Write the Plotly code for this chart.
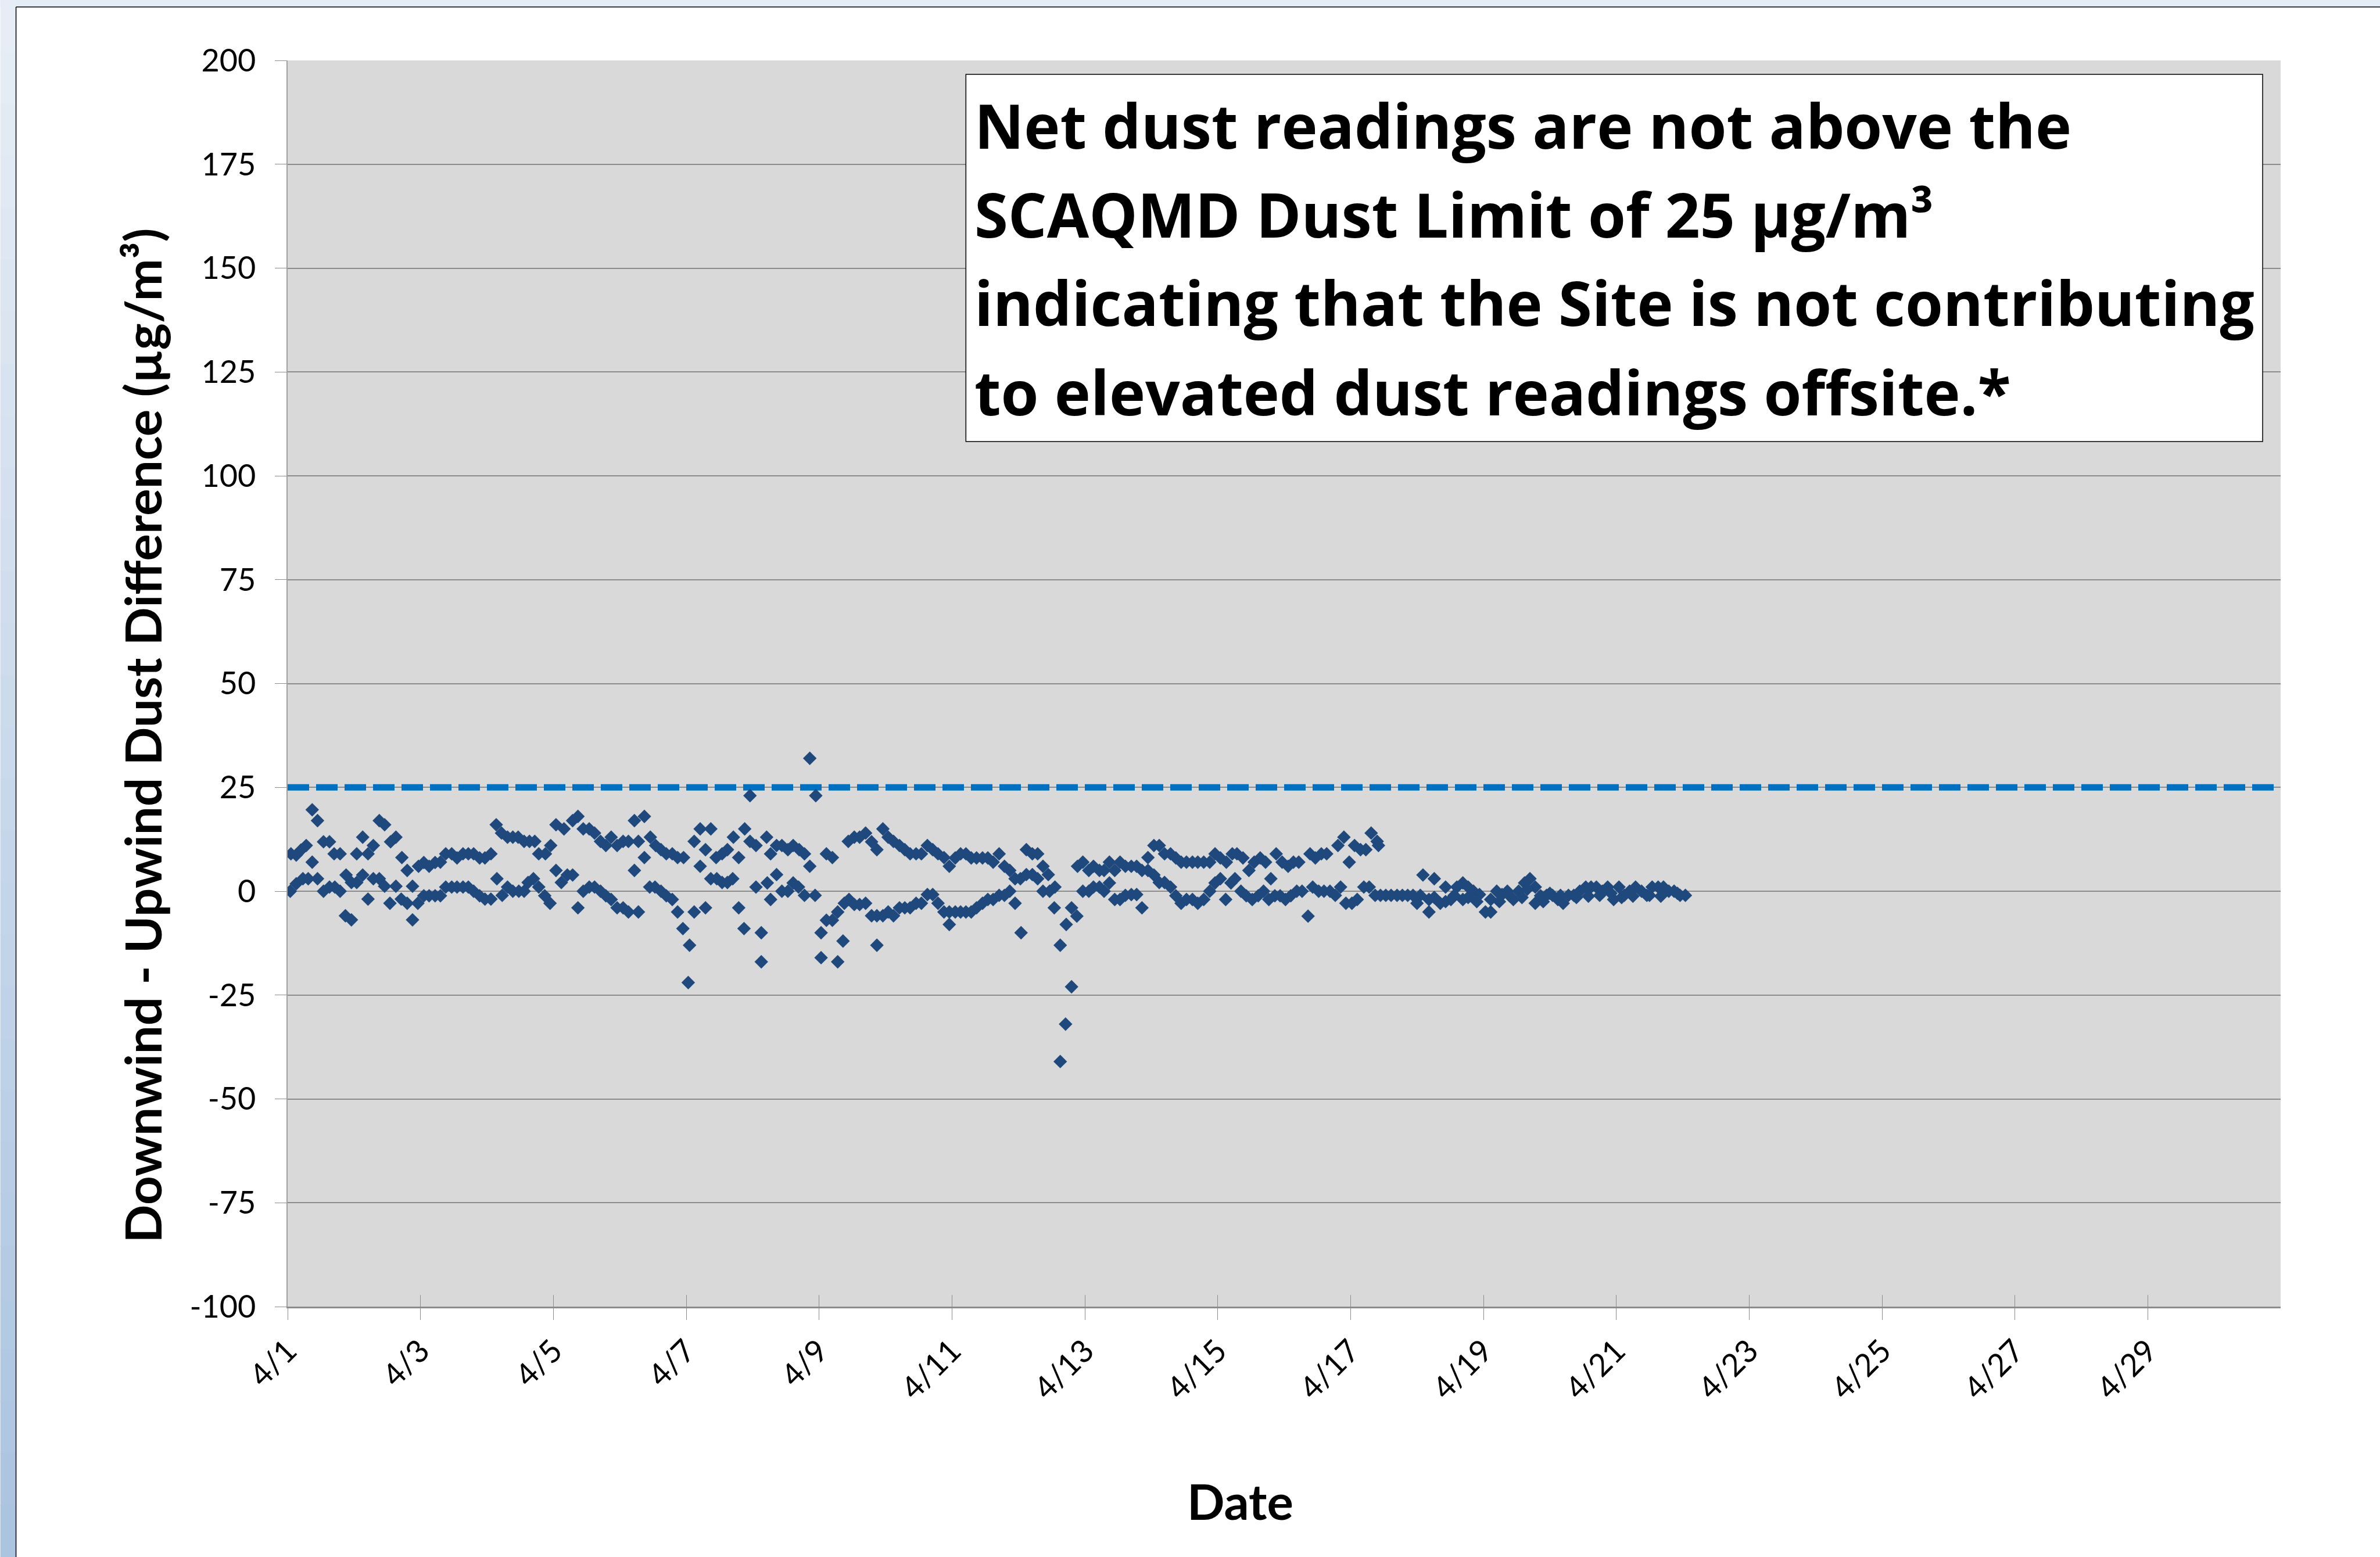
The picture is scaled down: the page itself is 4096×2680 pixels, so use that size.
import pandas as pd
import plotly.graph_objects as go

# ---------------- data (days after 4/1 00:00, net dust µg/m³) ----------------
BASE_DATE = "2014-04-01"   # only month/day are shown on the chart

apr01_04 = [
    (0.05, 9.0), (0.13, 8.7), (0.20, 9.9), (0.28, 11.0), (0.37, 19.6), (0.45, 17.0), (0.37, 7.0),
    (0.54, 11.9), (0.63, 11.9), (0.70, 9.0), (0.79, 9.0), (1.04, 9.0), (1.13, 13.0), (1.21, 9.0),
    (1.29, 11.0), (1.38, 17.0), (1.46, 16.0), (1.55, 11.9), (1.63, 13.0), (1.72, 8.1), (1.80, 5.0),
    (1.97, 6.0), (2.05, 6.9), (2.13, 6.0), (2.22, 6.9), (2.30, 7.0), (2.38, 9.0), (2.47, 9.0),
    (2.55, 8.0), (2.64, 9.0), (2.72, 9.0), (2.80, 9.0), (2.89, 8.0), (2.97, 8.0), (3.06, 9.0),
    (3.14, 16.0), (3.22, 14.0), (3.31, 13.0), (3.39, 13.0), (3.47, 13.0), (3.56, 12.0), (3.64, 12.0),
    (3.72, 12.0), (3.78, 9.0), (3.88, 9.0), (3.96, 11.0), (4.04, 16.0), (4.16, 15.0),
    (0.04, 0.0), (0.13, 1.8), (0.23, 3.0), (0.31, 3.0), (0.45, 3.0), (0.54, 0.0), (0.63, 1.0),
    (0.71, 1.0), (0.79, 0.0), (0.87, -5.9), (0.88, 3.9), (0.96, 2.1), (0.96, -6.9), (1.04, 2.1),
    (1.13, 3.9), (1.21, -1.9), (1.29, 3.0), (1.38, 3.0), (1.46, 1.2), (1.54, -2.9), (1.63, 1.2),
    (1.71, -1.9), (1.80, -2.9), (1.88, 1.2), (1.88, -6.9), (1.96, -2.9), (2.05, -1.1), (2.13, -1.1),
    (2.22, -1.1), (2.30, -1.1), (2.38, 1.0), (2.47, 1.0), (2.55, 1.0), (2.64, 1.0), (2.72, 1.0),
    (2.80, 0.0), (2.89, -1.1), (2.97, -1.9), (3.06, -1.9), (3.15, 3.0), (3.23, -1.0), (3.31, 1.0),
    (3.39, 0.0), (3.48, 0.0), (3.56, 0.0), (3.62, 2.1), (3.70, 3.0), (3.78, 1.0), (3.87, -1.1),
    (3.95, -2.9), (4.04, 5.0), (4.12, 2.1),
]

apr05_08 = [
    (4.29, 17.0), (4.37, 18.0), (4.45, 15.0), (4.54, 15.0), (4.62, 14.0), (4.71, 12.0), (4.79, 11.0),
    (4.87, 13.0), (4.96, 11.0), (5.05, 12.0), (5.13, 12.0), (5.28, 12.0), (5.22, 17.0), (5.37, 18.0),
    (5.37, 8.1), (5.22, 5.0), (5.46, 13.0), (5.54, 11.0), (5.62, 10.0), (5.70, 9.0), (5.79, 9.0),
    (5.87, 8.1), (5.96, 8.1),
    (4.21, 3.9), (4.29, 3.9), (4.37, -4.0), (4.45, 0.0), (4.54, 1.0), (4.62, 1.0), (4.71, 0.0),
    (4.79, -1.1), (4.87, -2.0), (4.96, -4.0), (5.05, -4.0), (5.13, -5.0), (5.28, -5.0), (5.45, 1.0),
    (5.53, 1.0), (5.62, 0.0), (5.70, -1.1), (5.79, -2.0), (5.87, -5.0), (5.95, -9.0), (6.05, -13.0),
    (6.03, -22.0), (6.12, -5.0), (6.29, -4.0),
    (6.12, 12.0), (6.21, 15.0), (6.37, 15.0), (6.29, 10.0), (6.21, 6.0), (6.37, 3.0), (6.46, 3.0),
    (6.54, 2.1), (6.62, 2.1), (6.70, 3.0), (6.45, 8.1), (6.54, 9.0), (6.62, 10.0), (6.71, 13.0),
    (6.79, 8.1), (6.79, -4.0), (6.87, -9.0), (6.88, 15.0), (6.96, 12.0), (7.05, 11.0), (6.96, 23.0),
    (7.05, 1.0), (7.13, -10.0), (7.13, -17.0),
    (7.21, 13.0), (7.27, 9.0), (7.36, 11.0), (7.44, 11.0), (7.53, 10.0), (7.61, 11.0), (7.70, 10.0),
    (7.78, 9.0), (7.86, 6.0),
    (7.22, 2.0), (7.27, -2.0), (7.36, 4.0), (7.44, 0.0), (7.53, 0.0), (7.61, 2.0), (7.69, 1.0),
    (7.78, -1.0), (7.94, -1.0),
    (7.86, 32.0), (7.95, 23.0), (8.11, 9.0), (8.20, 8.1), (8.03, -10.0), (8.03, -16.0), (8.11, -7.0),
    (8.20, -7.0), (8.28, -5.0), (8.28, -17.0), (8.36, -12.0), (8.38, -2.9), (8.44, 12.0),
]

apr09_12 = [
    (8.53, 13.0), (8.61, 13.0), (8.70, 14.0), (8.79, 11.9), (8.87, 10.0), (8.96, 15.0), (9.04, 13.0),
    (9.12, 12.0), (9.21, 11.0), (9.29, 10.0), (9.37, 9.0), (9.46, 9.0), (9.54, 9.0), (9.63, 11.0),
    (9.71, 10.0), (9.79, 9.0), (9.88, 8.1), (9.96, 6.0), (10.05, 8.0), (10.13, 9.0), (10.21, 9.0),
    (10.29, 8.0), (10.37, 8.0), (10.46, 8.0), (10.54, 8.0), (10.62, 7.0), (10.71, 9.0), (10.79, 6.0),
    (10.87, 5.0), (10.95, 3.0), (11.03, 3.0), (11.12, 4.0), (11.21, 4.0), (11.29, 3.0), (11.12, 10.0),
    (11.21, 9.0), (11.29, 9.0), (11.37, 6.0), (11.45, 4.0),
    (8.45, -2.0), (8.53, -3.2), (8.61, -3.2), (8.70, -2.9), (8.79, -5.9), (8.87, -5.9), (8.96, -5.9),
    (9.04, -5.0), (9.12, -5.9), (9.21, -4.0), (9.29, -4.0), (9.37, -4.0), (9.46, -2.9), (9.54, -2.9),
    (9.63, -0.8), (9.71, -0.8), (9.79, -2.9), (9.88, -5.0), (9.96, -5.0), (10.05, -5.0), (10.13, -5.0),
    (10.21, -5.0), (10.29, -5.0), (10.37, -4.0), (10.46, -2.9), (10.54, -2.0), (10.62, -2.0),
    (10.71, -1.0), (10.79, -1.0), (10.87, 0.0),
    (8.87, -13.0), (9.96, -8.0), (10.95, -2.9), (11.04, -10.0),
    (11.37, 0.0), (11.47, 0.0), (11.55, 1.0), (11.54, -4.0), (11.63, -13.0), (11.72, -8.0),
    (11.80, -4.0), (11.88, -6.0), (11.80, -23.0), (11.71, -32.0), (11.63, -41.0),
    (11.89, 6.0), (11.97, 7.0), (12.06, 5.0), (12.13, 6.0), (12.22, 5.0), (12.29, 5.0), (12.37, 7.0),
    (12.45, 5.0), (12.53, 7.0), (12.61, 6.0),
    (11.97, 0.0), (12.06, 0.0), (12.13, 1.0), (12.22, 1.0), (12.29, 0.0), (12.37, 2.0), (12.45, -2.0),
    (12.53, -2.0), (12.61, -1.0),
]

apr13_16 = [
    (12.70, 6.0), (12.78, 6.0), (12.86, 5.0), (12.95, 5.0), (12.95, 8.1), (13.04, 11.0), (13.12, 11.0),
    (13.20, 9.0), (13.29, 9.0), (13.37, 8.0), (13.45, 7.0), (13.53, 7.0), (13.62, 7.0), (13.70, 7.0),
    (13.79, 7.0), (13.88, 7.0), (13.96, 9.0), (14.04, 8.0), (14.13, 7.0), (14.22, 9.0), (14.29, 9.0),
    (14.38, 8.0), (14.47, 5.0), (14.55, 7.0), (14.64, 8.0), (14.72, 7.0), (14.88, 9.0), (14.97, 7.0),
    (15.06, 6.0), (15.14, 7.0), (15.22, 7.0), (15.39, 9.0), (15.47, 8.0), (15.56, 9.0), (15.64, 9.0),
    (15.81, 11.0), (15.90, 13.0), (15.98, 7.0), (16.06, 11.0), (16.15, 10.0), (16.23, 10.0),
    (16.31, 14.0), (16.40, 12.0), (16.42, 11.0),
    (12.70, -0.8), (12.78, -0.8), (12.86, -4.0), (13.04, 3.9), (13.12, 2.1), (13.20, 2.1), (13.29, 1.0),
    (13.37, -1.1), (13.45, -2.9), (13.53, -2.0), (13.62, -2.0), (13.70, -2.9), (13.79, -2.0),
    (13.88, 0.0), (13.96, 2.0), (14.04, 3.0), (14.12, -2.0), (14.20, 2.0), (14.26, 3.0), (14.35, 0.0),
    (14.43, -1.1), (14.52, -2.0), (14.61, -1.1), (14.69, 0.0), (14.77, -2.0), (14.86, -1.1),
    (14.94, -1.1), (15.02, -2.0), (15.10, -1.1), (15.19, 0.0), (15.27, 0.0), (14.80, 3.0),
    (15.36, -6.0), (15.43, 1.0), (15.52, 0.0), (15.60, 0.0), (15.69, 0.0), (15.77, -1.0), (15.85, 1.0),
    (15.93, -2.9), (16.02, -2.9), (16.10, -2.0), (16.20, 1.0), (16.28, 1.0), (16.37, -1.0),
    (16.45, -1.0), (16.53, -1.0), (16.61, -1.0), (16.70, -1.0), (16.78, -1.0), (16.86, -1.0),
]

apr17_22 = [
    (16.94, -1.0), (17.00, -2.9), (17.09, 3.9), (17.18, -2.0), (17.18, -5.0), (17.26, 3.0),
    (17.35, -2.9), (17.43, 1.0), (17.51, -2.0), (17.60, 1.0), (17.69, 2.0), (17.77, 1.0),
    (17.69, -2.0), (17.85, 0.0), (17.94, -0.8), (18.03, -5.0), (18.11, -5.0), (18.11, -2.0),
    (18.20, 0.0), (18.28, -0.8), (18.36, 0.0), (18.45, -2.0), (18.53, 0.0), (18.62, 2.0),
    (18.70, 3.0), (18.78, 1.0), (18.78, -2.9), (18.86, -1.1), (18.95, -1.0), (19.04, -1.0),
    (19.12, -2.0), (19.20, -2.9), (19.28, -1.0), (19.36, -1.0), (19.45, 0.0), (19.54, 1.0),
    (19.62, 1.0), (19.70, 1.0), (19.79, 0.0), (19.87, 1.0), (19.96, -2.0), (20.04, 1.0),
    (20.12, -1.0), (20.20, 0.0), (20.29, 1.0), (20.38, 0.0), (20.46, -1.0), (20.54, 1.0),
    (20.63, 1.0), (20.71, 1.0), (20.79, 0.0), (20.87, 0.0), (20.96, -1.0), (21.04, -1.0),
    (17.05, -1.0), (17.26, -1.5), (17.43, -2.5), (17.56, -1.0), (17.77, -1.5), (17.90, -2.5),
    (18.24, -2.5), (18.40, -1.2), (18.58, -1.5), (18.66, 0.5), (18.90, -2.5), (19.00, -0.5),
    (19.16, -1.0), (19.40, -1.5), (19.58, -1.2), (19.75, -1.0), (19.92, -0.5), (20.08, -1.5),
    (20.25, -1.2), (20.50, -1.0), (20.67, -1.2), (20.92, -0.5),
]

DUST_LIMIT = 25                      # SCAQMD limit, µg/m³
AXIS_SPAN_DAYS = 30                  # 4/1 .. 5/1
X_TICK_DAYS = list(range(0, 29, 2))  # 4/1, 4/3, ... 4/29
Y_TICK_VALS = list(range(-100, 201, 25))
Y_TICK_TEXT = [str(v) for v in Y_TICK_VALS]

BOX_LINES = [
    "Net dust readings are not above the",
    "SCAQMD Dust Limit of 25 µg/m³",
    "indicating that the Site is not contributing",
    "to elevated dust readings offsite.*",
]
Y_TITLE = "Downwind - Upwind Dust Difference (µg/m³)"
X_TITLE = "Date"

# ---------------- build ----------------
base = pd.Timestamp(BASE_DATE)
points = apr01_04 + apr05_08 + apr09_12 + apr13_16 + apr17_22
xs = [base + pd.to_timedelta(d, unit="D") for d, _ in points]
ys = [v for _, v in points]
x_end = base + pd.Timedelta(days=AXIS_SPAN_DAYS)
x_ticks = [base + pd.Timedelta(days=d) for d in X_TICK_DAYS]

W, H = 4096, 2680
L, R, T, B = 494.5, 3925.0, 104.0, 2249.0


def px_x(px):
    return (px - L) / (R - L)


def px_y(py):
    return (B - py) / (B - T)


FONT = "Lato"
BOX_FONT = "Open Sans"
GRID = "#8c8c8c"

fig = go.Figure()
fig.add_trace(go.Scatter(
    x=[base, x_end], y=[DUST_LIMIT, DUST_LIMIT], mode="lines",
    line=dict(color="#0070c0", width=11, dash="37px,12px"),
    hoverinfo="skip", showlegend=False))
fig.add_trace(go.Scatter(
    x=xs, y=ys, mode="markers",
    marker=dict(symbol="diamond", size=18, color="#1f497d", line=dict(width=0)),
    showlegend=False))
fig.add_trace(go.Scatter(x=[], y=[], xaxis="x2", showlegend=False))

shapes = []
# window background: top strip + left gradient strip
shapes.append(dict(type="rect", xref="paper", yref="paper",
                   x0=px_x(0), x1=px_x(W), y0=px_y(0), y1=px_y(12),
                   fillcolor="#e4ecf5", line=dict(width=0), layer="below"))
n = 30
c0 = (0xe6, 0xed, 0xf6)
c1 = (0xab, 0xc4, 0xe0)
for i in range(n):
    t = i / (n - 1)
    col = "rgb(%d,%d,%d)" % tuple(round(a + (b - a) * t) for a, b in zip(c0, c1))
    y0 = i * H / n
    y1 = (i + 1) * H / n + 1
    shapes.append(dict(type="rect", xref="paper", yref="paper",
                       x0=px_x(0), x1=px_x(27), y0=px_y(y0), y1=px_y(y1),
                       fillcolor=col, line=dict(width=0), layer="below"))
# chart border
shapes.append(dict(type="line", xref="paper", yref="paper",
                   x0=px_x(27), x1=px_x(27), y0=px_y(12), y1=px_y(H),
                   line=dict(color="black", width=1.5)))
shapes.append(dict(type="line", xref="paper", yref="paper",
                   x0=px_x(27), x1=px_x(W), y0=px_y(12), y1=px_y(12),
                   line=dict(color="black", width=1.5)))
# text box
shapes.append(dict(type="rect", xref="paper", yref="paper",
                   x0=px_x(1662), x1=px_x(3894), y0=px_y(128), y1=px_y(760),
                   fillcolor="white", line=dict(color="black", width=1.5), layer="above"))

annotations = []
line_centers = [216, 368, 520, 674]
for txt, cy in zip(BOX_LINES, line_centers):
    annotations.append(dict(
        text=txt, xref="paper", yref="paper", x=px_x(1675), y=px_y(cy),
        xanchor="left", yanchor="middle", showarrow=False,
        font=dict(family=BOX_FONT, size=105, color="black", weight="bold")))
annotations.append(dict(
    text=Y_TITLE, xref="paper", yref="paper", x=px_x(243), y=px_y(1266),
    xanchor="center", yanchor="middle", textangle=-90, showarrow=False,
    font=dict(family=FONT, size=87, color="black", weight="bold")))
annotations.append(dict(
    text=X_TITLE, xref="paper", yref="paper", x=px_x(2134), y=px_y(2583),
    xanchor="center", yanchor="middle", showarrow=False,
    font=dict(family=FONT, size=85, color="black", weight="bold")))

xcommon = dict(type="date", range=[base, x_end], tickmode="array", tickvals=x_ticks,
               tickcolor="#8c8c8c", tickwidth=1.3, ticklen=20, showgrid=False, zeroline=False)

fig.update_layout(
    width=W, height=H,
    margin=dict(l=L, r=W - R, t=T, b=H - B, pad=0),
    paper_bgcolor="white", plot_bgcolor="#d9d9d9",
    showlegend=False,
    shapes=shapes, annotations=annotations,
    xaxis=dict(**xcommon, tickformat="%-m/%-d", tickangle=-45, ticks="outside",
               showline=True, linecolor=GRID, linewidth=2.5,
               tickfont=dict(family=FONT, size=54, color="black")),
    xaxis2=dict(**xcommon, overlaying="x", anchor="y", side="bottom", ticks="inside",
                showticklabels=False, showline=False),
    yaxis=dict(range=[-100, 200], tickmode="array", tickvals=Y_TICK_VALS, ticktext=Y_TICK_TEXT,
               ticks="outside", ticklen=20, ticklabelstandoff=22,
               tickcolor=GRID, tickwidth=1.3, showgrid=True, gridcolor=GRID, gridwidth=1.8,
               zeroline=False, showline=True, linecolor="#a0a0a0", linewidth=1.5,
               tickfont=dict(family=FONT, size=54, color="black")),
)

fig.write_html("out.html", config={"displayModeBar": False},
               post_script="document.body.style.margin='0';")
